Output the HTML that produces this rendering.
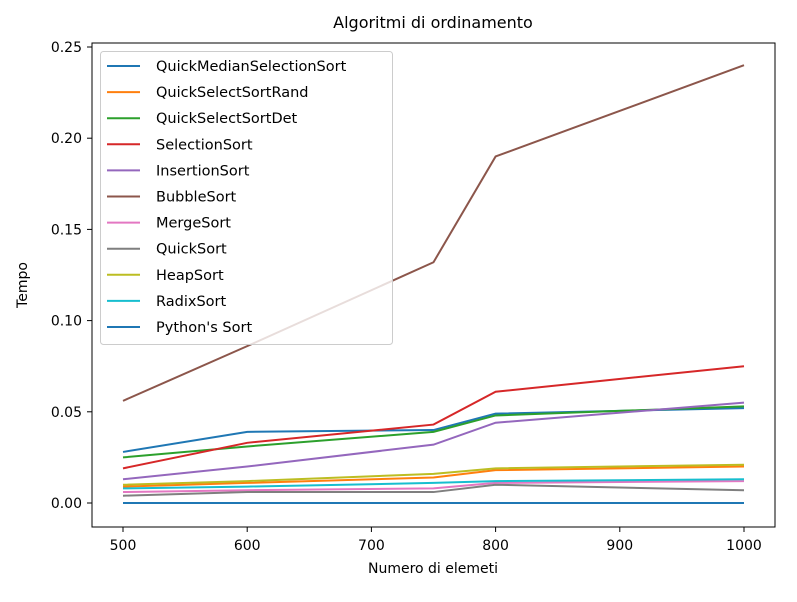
<!DOCTYPE html>
<html><head><meta charset="utf-8"><style>
body{margin:0;background:#fff}
svg text{font-family:"DejaVu Sans","Liberation Sans",sans-serif;fill:#000}
</style></head><body>
<svg id="chart" width="797" height="597" xmlns="http://www.w3.org/2000/svg">
<rect width="797" height="597" fill="#fff"/>
<text x="433" y="28" font-size="16" text-anchor="middle">Algoritmi di ordinamento</text>
<text x="433" y="573" font-size="14" text-anchor="middle">Numero di elemeti</text>
<text x="0" y="0" font-size="14" text-anchor="middle" transform="translate(27,285) rotate(-90)">Tempo</text>
<g id="ticks"></g>
<g id="lines"></g>
<rect x="92" y="43" width="683" height="484" fill="none" stroke="#000" stroke-width="1"/>
<g id="legend"></g>
</svg>
<script>
const xValues=[500,600,750,800,1000];
const xTicks=[500,600,700,800,900,1000];
const yTicks=[0,0.05,0.10,0.15,0.20,0.25];
const names=["QuickMedianSelectionSort","QuickSelectSortRand","QuickSelectSortDet","SelectionSort","InsertionSort","BubbleSort","MergeSort","QuickSort","HeapSort","RadixSort","Python's Sort"];
const colors=["#1f77b4","#ff7f0e","#2ca02c","#d62728","#9467bd","#8c564b","#e377c2","#7f7f7f","#bcbd22","#17becf","#1f77b4"];
const sQuickMedian=[0.028,0.039,0.040,0.049,0.052];
const sQuickRand=[0.009,0.011,0.014,0.018,0.020];
const sQuickDet=[0.025,0.031,0.039,0.048,0.053];
const sSelection=[0.019,0.033,0.043,0.061,0.075];
const sInsertion=[0.013,0.020,0.032,0.044,0.055];
const sBubble=[0.056,0.086,0.132,0.190,0.240];
const sMerge=[0.006,0.007,0.008,0.011,0.012];
const sQuick=[0.004,0.006,0.006,0.010,0.007];
const sHeap=[0.010,0.012,0.016,0.019,0.021];
const sRadix=[0.008,0.009,0.011,0.012,0.013];
const sPython=[0,0,0,0,0];
const series=[sQuickMedian,sQuickRand,sQuickDet,sSelection,sInsertion,sBubble,sMerge,sQuick,sHeap,sRadix,sPython];
const NS="http://www.w3.org/2000/svg";
function xs(v){return 123+(v-500)*(744-123)/500;}
function ys(v){return 503-v*(503-47)/0.25;}
function mk(t,a,p){const e=document.createElementNS(NS,t);for(const k in a)e.setAttribute(k,a[k]);p.appendChild(e);return e;}
const tg=document.getElementById('ticks');
xTicks.forEach(t=>{
  const l=mk('line',{x1:xs(t),x2:xs(t),y1:527,y2:532,stroke:'#000'},tg);
  
  
  const tx=mk('text',{x:xs(t),y:550,'font-size':14,'text-anchor':'middle'},tg);tx.textContent=t;
  
  
});
yTicks.forEach(t=>{
  const l=mk('line',{x1:87,x2:92,y1:ys(t),y2:ys(t),stroke:'#000'},tg);
  
  
  const tx=mk('text',{x:82,y:ys(t)+5,'font-size':14,'text-anchor':'end'},tg);tx.textContent=t.toFixed(2);
  
  
});
const lg=document.getElementById('lines');
series.forEach((s,i)=>{
  const p=mk('polyline',{points:s.map((v,j)=>xs(xValues[j])+','+ys(v)).join(' '),fill:'none',stroke:colors[i],'stroke-width':2},lg);
  
  
});
const leg=document.getElementById('legend');
const box=mk('rect',{x:100.5,y:51.5,width:292,height:293,rx:3,fill:'#fff','fill-opacity':0.8,stroke:'#ccc'},leg);


names.forEach((n,i)=>{
  const y=66+i*26.1;
  const l=mk('line',{x1:107,x2:140,y1:y,y2:y,stroke:colors[i],'stroke-width':2},leg);
  
  
  const t=mk('text',{x:156,y:y+5,'font-size':14.5},leg);t.textContent=n;
  
  
});
</script>
</body></html>
